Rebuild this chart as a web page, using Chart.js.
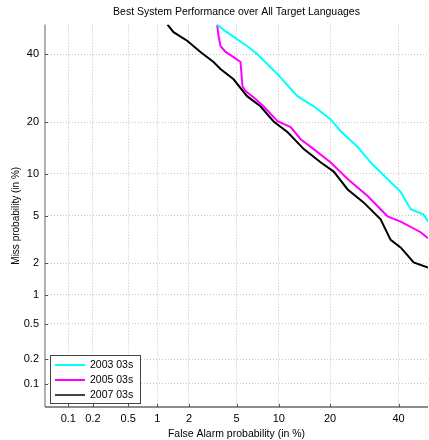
<!DOCTYPE html>
<html>
<head>
<meta charset="utf-8">
<script src="https://cdn.jsdelivr.net/npm/chart.js@4"></script>
<style>
  html, body { margin: 0; padding: 0; background: #fff; }
  #wrap { width: 429px; height: 440px; }
</style>
</head>
<body>
<div id="wrap"><canvas id="det" width="429" height="440"></canvas></div>
<script>
// tick positions (in %) on both probit axes
const tickPercents = [0.1, 0.2, 0.5, 1, 2, 5, 10, 20, 40];
const tickLabels = ["0.1", "0.2", "0.5", "1", "2", "5", "10", "20", "40"];
const axisMinPct = 0.05;
const axisMaxPct = 50;

const seriesNames = ["2003 03s", "2005 03s", "2007 03s"];
const seriesColors = ["#00ffff", "#ff00ff", "#000000"];

// false alarm % / miss %
const fa2003 = [3.5, 4.2, 6.0, 7.1, 9.8, 13.1, 16.3, 20.1, 22.6, 27.3, 31.1, 34.2, 40.7, 44.1, 48.5, 50];
const miss2003 = [50, 47.4, 42.7, 40, 33.5, 26.9, 24.1, 20.8, 18.0, 14.6, 11.8, 10.2, 7.5, 5.6, 5.1, 4.5];

const fa2005 = [3.5, 3.6, 3.73, 4.1, 4.74, 5.36, 5.55, 5.84, 6.69, 7.88, 9.8, 11.9, 13.7, 16.3, 20.1, 24.5, 30.2, 36.4, 40.7, 47.5, 50];
const miss2005 = [50, 46.1, 42.7, 40.7, 39.0, 37.4, 29.8, 28.4, 26.6, 24.1, 20.3, 18.9, 16.2, 14.2, 11.8, 9.2, 7.0, 4.95, 4.5, 3.7, 3.3];

const fa2007 = [1.26, 1.44, 1.94, 2.53, 3.27, 3.73, 4.74, 6.0, 7.5, 9.2, 11.4, 14.3, 17.8, 20.9, 24.5, 29.0, 34.2, 37.4, 40.7, 45.1, 50];
const miss2007 = [50, 47.4, 44.4, 40.7, 37.4, 35.1, 31.9, 26.9, 24.1, 20.3, 17.7, 14.2, 11.8, 10.3, 7.8, 6.3, 4.7, 3.2, 2.76, 2.04, 1.83];

// --- inverse normal CDF (Acklam) ---
function probit(p) {
  const a = [-3.969683028665376e+01, 2.209460984245205e+02, -2.759285104469687e+02, 1.383577518672690e+02, -3.066479806614716e+01, 2.506628277459239e+00];
  const b = [-5.447609879822406e+01, 1.615858368580409e+02, -1.556989798598866e+02, 6.680131188771972e+01, -1.328068155288572e+01];
  const c = [-7.784894002430293e-03, -3.223964580411365e-01, -2.400758277161838e+00, -2.549732539343734e+00, 4.374664141464968e+00, 2.938163982698783e+00];
  const d = [7.784695709041462e-03, 3.224671290700398e-01, 2.445134137142996e+00, 3.754408661907416e+00];
  const pl = 0.02425;
  let q, r;
  if (p < pl) {
    q = Math.sqrt(-2 * Math.log(p));
    return (((((c[0]*q+c[1])*q+c[2])*q+c[3])*q+c[4])*q+c[5]) / ((((d[0]*q+d[1])*q+d[2])*q+d[3])*q+1);
  }
  if (p <= 1 - pl) {
    q = p - 0.5; r = q * q;
    return (((((a[0]*r+a[1])*r+a[2])*r+a[3])*r+a[4])*r+a[5])*q / (((((b[0]*r+b[1])*r+b[2])*r+b[3])*r+b[4])*r+1);
  }
  q = Math.sqrt(-2 * Math.log(1 - p));
  return -(((((c[0]*q+c[1])*q+c[2])*q+c[3])*q+c[4])*q+c[5]) / ((((d[0]*q+d[1])*q+d[2])*q+d[3])*q+1);
}

const toPoints = (fa, miss) => fa.map((v, i) => ({ x: probit(v / 100), y: probit(miss[i] / 100) }));

const FONT = "'Liberation Sans', Arial, sans-serif";

const probitTicks = scale => {
  scale.ticks = tickPercents.map(v => ({ value: probit(v / 100) }));
};
const tickLabel = (val, i) => tickLabels[i];

// --- solid axis lines with inward tick marks ---
const axisLines = {
  id: "axisLines",
  afterDatasetsDraw(chart) {
    const { ctx, chartArea: a, scales } = chart;
    ctx.save();
    // left axis
    ctx.strokeStyle = "#b0b0b0";
    ctx.lineWidth = 2;
    ctx.beginPath();
    ctx.moveTo(a.left, a.top);
    ctx.lineTo(a.left, a.bottom);
    ctx.stroke();
    // bottom axis
    ctx.strokeStyle = "#666";
    ctx.lineWidth = 1.5;
    ctx.beginPath();
    ctx.moveTo(a.left, a.bottom);
    ctx.lineTo(a.right, a.bottom);
    ctx.stroke();
    ctx.strokeStyle = "#555";
    ctx.lineWidth = 1;
    ctx.beginPath();
    scales.x.ticks.forEach(t => {
      const x = Math.round(scales.x.getPixelForValue(t.value)) + 0.5;
      ctx.moveTo(x, a.bottom);
      ctx.lineTo(x, a.bottom - 3);
    });
    scales.y.ticks.forEach(t => {
      const y = Math.round(scales.y.getPixelForValue(t.value)) + 0.5;
      ctx.moveTo(a.left, y);
      ctx.lineTo(a.left + 3, y);
    });
    ctx.stroke();
    ctx.restore();
  }
};

// --- legend drawn inside the plot, lower left ---
const insideLegend = {
  id: "insideLegend",
  afterDraw(chart) {
    const { ctx, chartArea } = chart;
    const x0 = chartArea.left + 5, w = 90, h = 48;
    const y0 = chartArea.bottom - 4 - h;
    ctx.save();
    ctx.fillStyle = "#fff";
    ctx.fillRect(x0, y0, w, h);
    ctx.strokeStyle = "#444";
    ctx.lineWidth = 1;
    ctx.strokeRect(x0 + 0.5, y0 + 0.5, w, h);
    ctx.font = "10.5px " + FONT;
    ctx.textBaseline = "middle";
    seriesNames.forEach((name, i) => {
      const y = y0 + 10 + 15 * i;
      ctx.strokeStyle = i === 2 ? "#444" : seriesColors[i];
      ctx.lineWidth = 2;
      ctx.beginPath();
      ctx.moveTo(x0 + 5, y);
      ctx.lineTo(x0 + 35, y);
      ctx.stroke();
      ctx.fillStyle = "#000";
      ctx.fillText(name, x0 + 40, y);
    });
    ctx.restore();
  }
};

const gridOpts = { color: "#c4c4c4", drawTicks: false };
const borderOpts = { display: false, dash: [1, 2] };

new Chart(document.getElementById("det"), {
  type: "scatter",
  data: {
    datasets: [
      { label: seriesNames[0], data: toPoints(fa2003, miss2003) },
      { label: seriesNames[1], data: toPoints(fa2005, miss2005) },
      { label: seriesNames[2], data: toPoints(fa2007, miss2007) }
    ].map((ds, i) => ({
      ...ds,
      showLine: true,
      borderColor: seriesColors[i],
      backgroundColor: seriesColors[i],
      borderWidth: 2,
      pointRadius: 0,
      tension: 0
    }))
  },
  options: {
    responsive: false,
    animation: false,
    layout: { padding: { left: 0, right: 1, top: 0, bottom: 0 } },
    plugins: {
      legend: { display: false },
      tooltip: { enabled: false },
      title: {
        display: true,
        fullSize: false,
        text: "Best System Performance over All Target Languages",
        color: "#000",
        font: { family: FONT, size: 10.5, weight: "normal" },
        padding: { top: 6, bottom: 6 }
      }
    },
    scales: {
      x: {
        type: "linear",
        min: probit(axisMinPct / 100),
        max: probit(axisMaxPct / 100),
        afterBuildTicks: probitTicks,
        afterFit: s => { s.height = 33; },
        ticks: { callback: tickLabel, color: "#000", font: { family: FONT, size: 11 }, padding: 5, maxRotation: 0, autoSkip: false },
        grid: gridOpts,
        border: borderOpts,
        title: { display: true, text: "False Alarm probability (in %)", color: "#000", font: { family: FONT, size: 10.5 }, padding: { top: 1, bottom: 0 } }
      },
      y: {
        type: "linear",
        min: probit(axisMinPct / 100),
        max: probit(axisMaxPct / 100),
        afterBuildTicks: probitTicks,
        afterFit: s => { s.width = 45; },
        ticks: { callback: tickLabel, color: "#000", font: { family: FONT, size: 11 }, padding: 6, autoSkip: false },
        grid: gridOpts,
        border: borderOpts,
        title: { display: true, text: "Miss probability (in %)", color: "#000", font: { family: FONT, size: 10 }, padding: { top: 10, bottom: 0 } }
      }
    }
  },
  plugins: [axisLines, insideLegend]
});
</script>
</body>
</html>
